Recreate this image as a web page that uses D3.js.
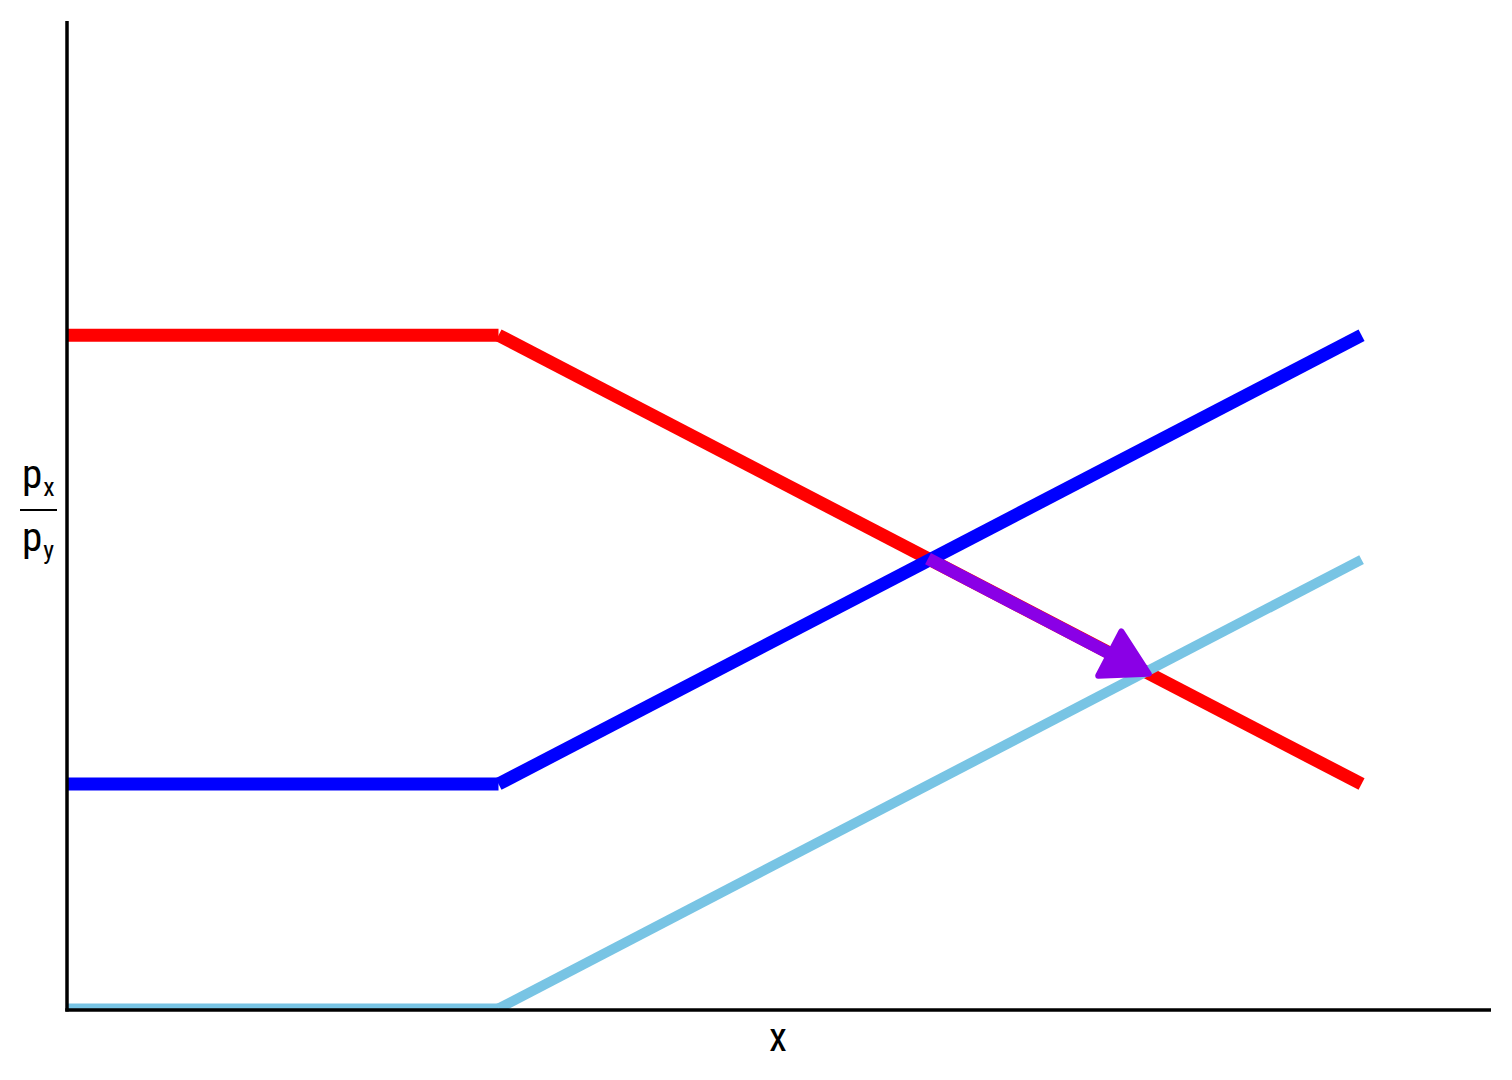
<!DOCTYPE html>
<html>
<head>
<meta charset="utf-8">
<script src="https://cdn.jsdelivr.net/npm/d3@7"></script>
<style>
  html, body { margin: 0; padding: 0; background: #fff; }
  svg { display: block; }
  text { font-family: "Liberation Sans Narrow", "Roboto Condensed", "Liberation Sans", Arial, sans-serif; fill: #000; }
</style>
</head>
<body>
<svg id="chart" width="1512" height="1080"></svg>
<script>
// Data
const xValues = [0, 1, 3];
const demandValues = [3, 3, 1];          // red
const supplyValues = [1, 1, 3];          // blue
const supplyShiftValues = [0, 0, 2];     // light blue
const arrowFrom = [2, 2];
const arrowTo = [2.5, 1.5];
const seriesNames = ["demand", "supply", "supplyShift"];
const seriesColors = ["#FF0000", "#0000FF", "#78C4E4"];
const seriesWidths = [13, 13, 10];
const xLabel = "x";

const svg = d3.select("#chart");
const x = d3.scaleLinear().domain([0, 3.3]).range([67, 1491]);
const y = d3.scaleLinear().domain([0, 4.4]).range([1008.5, 21]);

svg.append("defs").append("clipPath").attr("id", "panel")
  .append("rect").attr("x", 67).attr("y", 21).attr("width", 1491 - 67).attr("height", 1010 - 21);

const g = svg.append("g").attr("clip-path", "url(#panel)");
const series = [demandValues, supplyValues, supplyShiftValues];

series.forEach((vals, si) => {
  for (let i = 0; i < xValues.length - 1; i++) {
    g.append("line")
      .attr("x1", x(xValues[i])).attr("y1", y(vals[i]))
      .attr("x2", x(xValues[i + 1])).attr("y2", y(vals[i + 1]))
      .attr("stroke", seriesColors[si])
      .attr("stroke-width", seriesWidths[si])
      .attr("stroke-linecap", "butt");
  }
});

// Arrow
const ax1 = x(arrowFrom[0]) - 2, ay1 = y(arrowFrom[1]) - 1;
const ax2 = x(arrowTo[0]) + 3, ay2 = y(arrowTo[1]) + 2;
const ang = Math.atan2(ay2 - ay1, ax2 - ax1);
const headLen = 44, headHalf = 25;
const bx = ax2 - headLen * Math.cos(ang), by = ay2 - headLen * Math.sin(ang);
const purple = "#8A00E6";
g.append("line")
  .attr("x1", ax1).attr("y1", ay1)
  .attr("x2", bx + 4 * Math.cos(ang)).attr("y2", by + 4 * Math.sin(ang))
  .attr("stroke", purple).attr("stroke-width", 12.5).attr("stroke-linecap", "butt");
const pts = [
  [ax2, ay2],
  [bx - headHalf * Math.sin(ang), by + headHalf * Math.cos(ang)],
  [bx + headHalf * Math.sin(ang), by - headHalf * Math.cos(ang)]
];
g.append("path")
  .attr("d", d3.line()(pts) + "Z")
  .attr("fill", purple).attr("stroke", purple)
  .attr("stroke-width", 6).attr("stroke-linejoin", "round");

// Axes
svg.append("line").attr("x1", 67).attr("y1", 21).attr("x2", 67).attr("y2", 1011.5)
  .attr("stroke", "#000").attr("stroke-width", 3.5);
svg.append("line").attr("x1", 65.3).attr("y1", 1010).attr("x2", 1491).attr("y2", 1010)
  .attr("stroke", "#000").attr("stroke-width", 3.5);

// X label
svg.append("text").attr("x", 778).attr("y", 1051).attr("text-anchor", "middle")
  .attr("font-size", 41).text(xLabel);

// Y label: fraction p_x / p_y
const yl = svg.append("g");
const num = yl.append("text").attr("x", 22).attr("y", 488).attr("font-size", 41);
num.append("tspan").text("p");
num.append("tspan").attr("font-size", 26).attr("dx", 1).attr("dy", 8).text("x");
yl.append("line").attr("x1", 20).attr("x2", 57).attr("y1", 510).attr("y2", 510)
  .attr("stroke", "#000").attr("stroke-width", 2);
const den = yl.append("text").attr("x", 22).attr("y", 551).attr("font-size", 41);
den.append("tspan").text("p");
den.append("tspan").attr("font-size", 26).attr("dx", 1).attr("dy", 8).text("y");
</script>
</body>
</html>
